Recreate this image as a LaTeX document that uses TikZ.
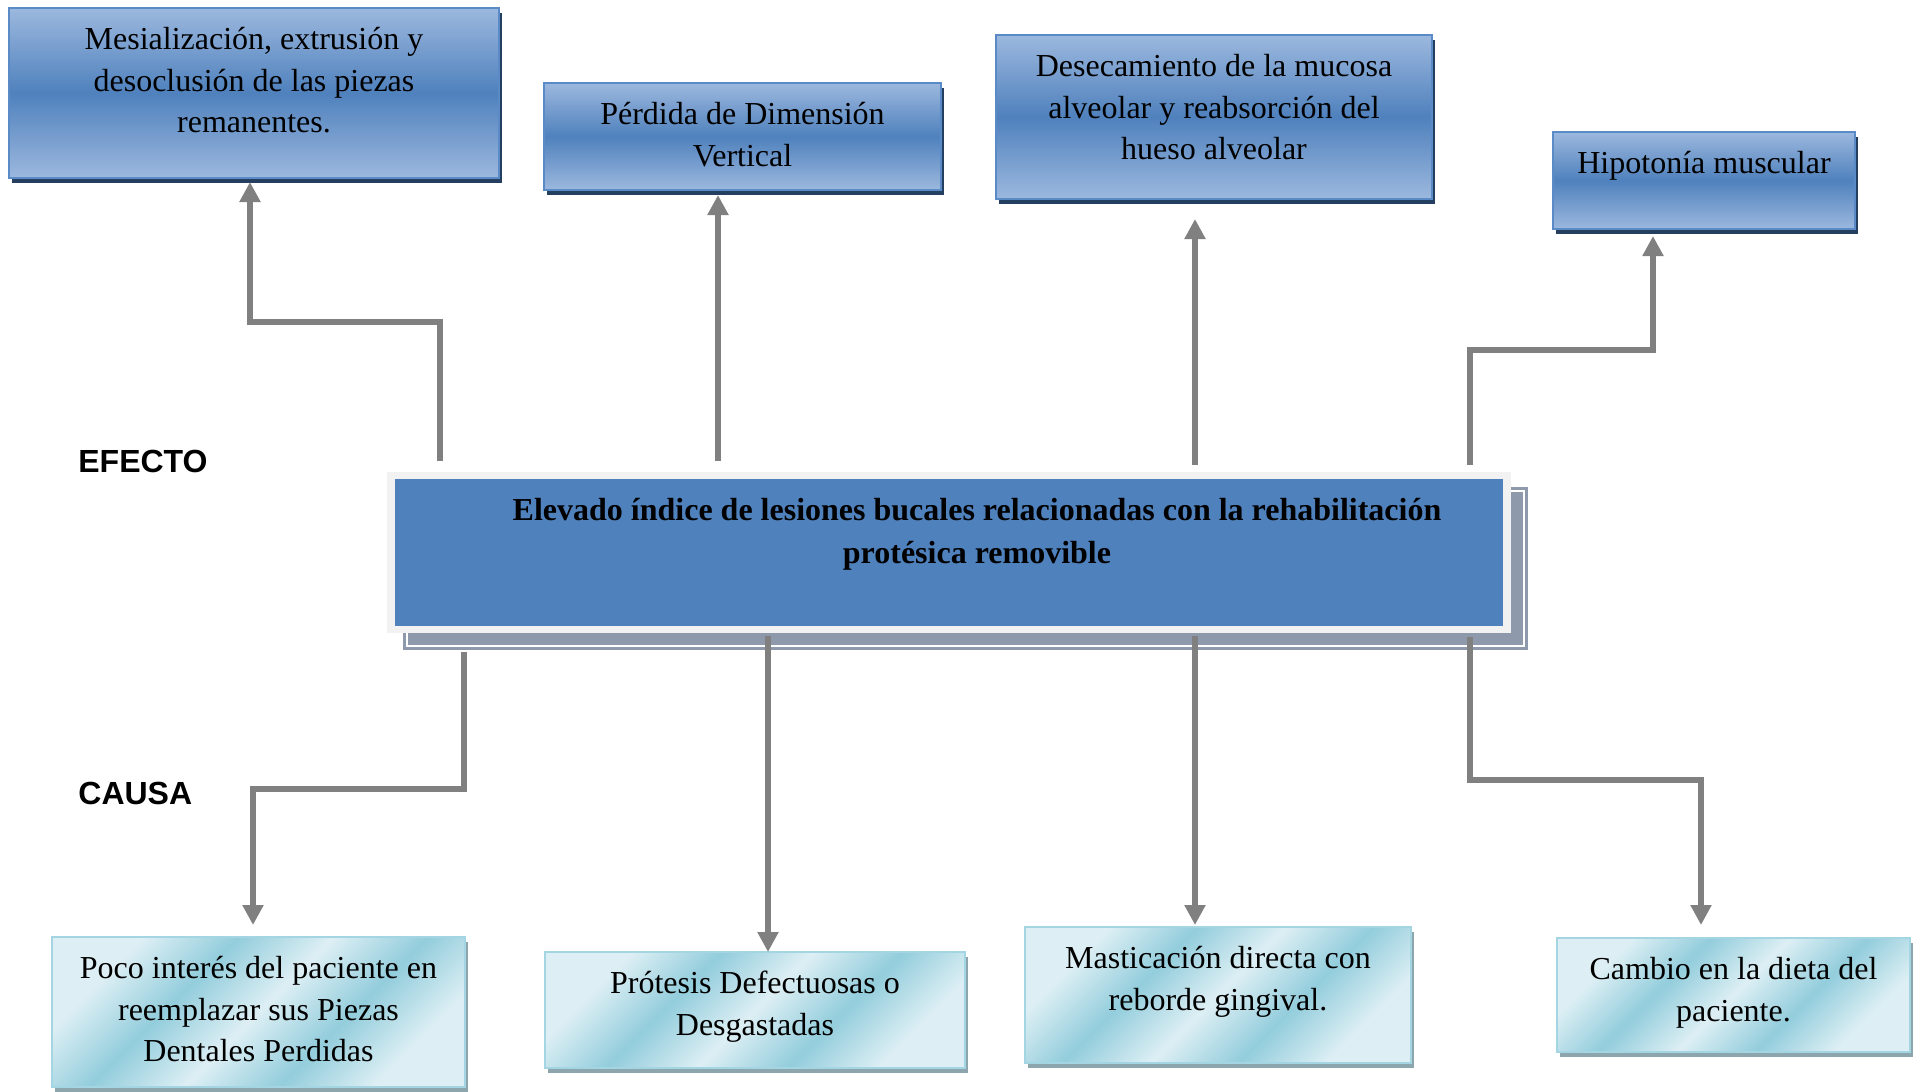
\documentclass[tikz,border=0pt]{standalone}
\usepackage{fontspec}
\setmainfont{Liberation Serif}
\newfontfamily\lblfont{Liberation Sans}
\usetikzlibrary{positioning,calc,shadows,backgrounds,arrows.meta}

\definecolor{effLight}{HTML}{9CB8DE}
\definecolor{effDark}{HTML}{4F81BD}
\definecolor{effLine}{HTML}{5B8BC7}
\definecolor{effShadow}{HTML}{243F60}
\definecolor{cauLight}{HTML}{DDEFF4}
\definecolor{cauDark}{HTML}{93CDDC}
\definecolor{cauLine}{HTML}{A3D5E2}
\definecolor{cauShadow}{HTML}{8DA5AD}
\definecolor{probFill}{HTML}{4F81BD}
\definecolor{probFrame}{HTML}{F2F2F2}
\definecolor{probShadow}{HTML}{8E9AAB}
\definecolor{arrGray}{HTML}{808080}

\pgfdeclareverticalshading{causefill}{100bp}{color(0bp)=(cauLight); color(26bp)=(cauLight); color(38bp)=(cauDark); color(50bp)=(cauLight); color(62bp)=(cauDark); color(74bp)=(cauLight); color(100bp)=(cauLight)}

\tikzset{
	effbox/.style={draw=effLine, line width=1pt, top color=effLight, bottom color=effLight, middle color=effDark,
		drop shadow={shadow xshift=1.5pt, shadow yshift=-2.5pt, fill=effShadow, opacity=1}},
	causebox/.style={draw=cauLine, line width=1pt, shade, shading=causefill, shading angle=45,
		drop shadow={shadow xshift=1.5pt, shadow yshift=-2.5pt, fill=cauShadow, opacity=1}},
	probbox/.style={draw=probFrame, line width=3.75pt, fill=probFill},
	txt/.style={inner sep=0pt, align=center, font=\fontsize{16}{20.75}\selectfont},
	lbl/.style={inner sep=0pt, anchor=west, font=\lblfont\bfseries\fontsize{16}{19}\selectfont},
	arr/.style={draw=arrGray, line width=3.2pt, -{Triangle[width=10pt,length=10pt]}}
}

\begin{document}
\begin{tikzpicture}[x=0.5pt, y=0.5pt]
	\useasboundingbox (0,0) rectangle (1918,-1092);

	\node[effbox, minimum width=245pt, minimum height=85pt] (ef1) at (254,-93) {};
	\node[effbox, minimum width=198.5pt, minimum height=53.5pt] (ef2) at (742.5,-136.5) {};
	\node[effbox, minimum width=218pt, minimum height=82pt] (ef3) at (1214,-117) {};
	\node[effbox, minimum width=151pt, minimum height=48.5pt] (ef4) at (1704,-180.5) {};

	\node[probbox, minimum width=558pt, minimum height=77pt] (prob) at (949,-552.5) {};
	\begin{pgfonlayer}{background}
		\fill[probShadow] ($(prob.south west)+(15.75,-16.75)$) rectangle ($(prob.north east)+(17.25,-15.25)$);
		\draw[white, line width=0.6pt] ($(prob.south west)+(19.75,-12.75)$) rectangle ($(prob.north east)+(13.25,-19.25)$);
	\end{pgfonlayer}

	\node[causebox, minimum width=206.5pt, minimum height=75pt] (ca1) at (258.5,-1012) {};
	\node[causebox, minimum width=210pt, minimum height=58pt] (ca2) at (755,-1010) {};
	\node[causebox, minimum width=193pt, minimum height=68pt] (ca3) at (1218,-995) {};
	\node[causebox, minimum width=176.5pt, minimum height=57pt] (ca4) at (1733.5,-995) {};

	\node[txt, below=10pt of ef1.north] (ef1t) {Mesialización, extrusión y\\desoclusión de las piezas\\remanentes.};
	\node[txt, below=10pt of ef2.north] (ef2t) {Pérdida de Dimensión\\Vertical};
	\node[txt, below=10pt of ef3.north] (ef3t) {Desecamiento de la mucosa\\alveolar y reabsorción del\\hueso alveolar};
	\node[txt, below=10pt of ef4.north] (ef4t) {Hipotonía muscular};
	\node[txt, font=\bfseries\fontsize{16}{21.5}\selectfont, below=13pt of prob.north, xshift=14pt] (probt) {Elevado índice de lesiones bucales relacionadas con la rehabilitación\\protésica removible};
	\node[txt, below=10pt of ca1.north] (ca1t) {Poco interés del paciente en\\reemplazar sus Piezas\\Dentales Perdidas};
	\node[txt, below=10pt of ca2.north] (ca2t) {Prótesis Defectuosas o\\Desgastadas};
	\node[txt, below=10pt of ca3.north] (ca3t) {Masticación directa con\\reborde gingival.};
	\node[txt, below=10pt of ca4.north] (ca4t) {Cambio en la dieta del\\paciente.};

	\node[lbl] (efecto) at (78,-461) {EFECTO};
	\node[lbl] (causa) at (78,-793) {CAUSA};

	\draw[arr] ($(ef1.south |- prob.north)+(186,10.75)$) -- ++(0,139) -| ($(ef1.south)+(-4,-3)$);
	\draw[arr] ($(ef2.south |- prob.north)+(-24.5,10.75)$) -- ($(ef2.south)+(-24.5,-4)$);
	\draw[arr] ($(ef3.south |- prob.north)+(-19,6.75)$) -- ($(ef3.south)+(-19,-19)$);
	\draw[arr] ($(ef4.south |- prob.north)+(-234,6.75)$) -- ++(0,115) -| ($(ef4.south)+(-51,-6)$);

	\draw[arr] ($(ca1.north |- prob.south)+(205.5,-18.75)$) -- ++(0,-137) -| ($(ca1.north)+(-5.5,11)$);
	\draw[arr] ($(ca2.north |- prob.south)+(13,-2.75)$) -- ($(ca2.north)+(13,-1)$);
	\draw[arr] ($(ca3.north |- prob.south)+(-23,-2.75)$) -- ($(ca3.north)+(-23,1)$);
	\draw[arr] ($(ca4.north |- prob.south)+(-263.5,-3.75)$) -- ++(0,-143) -| ($(ca4.north)+(-32.5,12)$);
\end{tikzpicture}
\end{document}
